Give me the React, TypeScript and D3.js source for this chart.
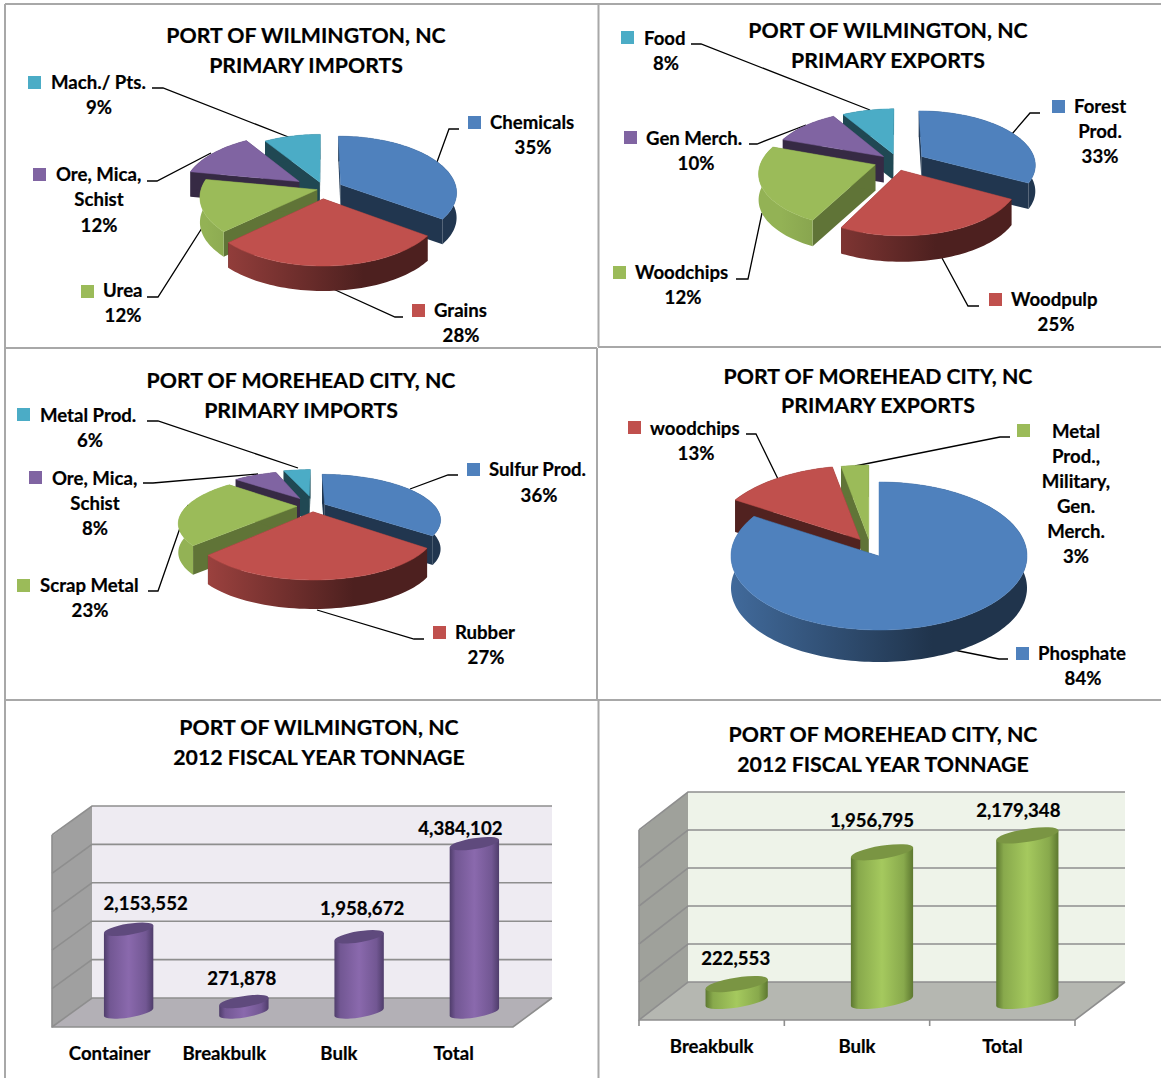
import React from "react";
import * as d3 from "d3";

// ---- data ----
const wilmImportNames = ["Chemicals", "Grains", "Urea", "Ore, Mica, Schist", "Mach./ Pts."];
const wilmImportLabels = ["35%", "28%", "12%", "12%", "9%"];
const wilmImportShares = [35, 28, 15, 13, 9];

const wilmExportNames = ["Forest Prod.", "Woodpulp", "Woodchips", "Gen Merch.", "Food"];
const wilmExportLabels = ["33%", "25%", "12%", "10%", "8%"];
const wilmExportShares = [33, 24.5, 23, 11, 8.5];

const moreImportNames = ["Sulfur Prod.", "Rubber", "Scrap Metal", "Ore, Mica, Schist", "Metal Prod."];
const moreImportLabels = ["36%", "27%", "23%", "8%", "6%"];
const moreImportShares = [36, 26, 24, 8.5, 5.5];

const moreExportNames = ["Phosphate", "woodchips", "Metal Prod., Military, Gen. Merch."];
const moreExportLabels = ["84%", "13%", "3%"];
const moreExportShares = [84, 13, 3];

const wilmTonnageCats = ["Container", "Breakbulk", "Bulk", "Total"];
const wilmTonnageVals = [2153552, 271878, 1958672, 4384102];
const moreTonnageCats = ["Breakbulk", "Bulk", "Total"];
const moreTonnageVals = [222553, 1956795, 2179348];

// ---- styling ----
const FONT = "Lato, 'Open Sans', sans-serif";
const TITLE_SIZE = 21.3;
const LABEL_SIZE = 18.6;
const palette = ["#4f81bd", "#c0504d", "#9bbb59", "#8064a2", "#4bacc6"];
const GREEN = "#9bbb59";
const shade = (c: string, f: number) => {
  const r = d3.rgb(c);
  return d3.rgb(r.r * f, r.g * f, r.b * f).formatHex();
};

type Lab = { key: [number, number]; lines: [string, number, number][]; leader: [number, number][] };
type PieCfg = {
  id: string; title: string[]; titleX: number; titleY: number[];
  shares: number[]; colors: string[];
  cx: number; cy: number; R: number; e: number; k: number; depth: number;
  explode: number[]; nudge: [number, number][]; labels: Lab[];
};

const pies: PieCfg[] = [
  {
    id: "p1", title: ["PORT OF WILMINGTON, NC", "PRIMARY IMPORTS"], titleX: 306, titleY: [35, 65],
    shares: wilmImportShares, colors: palette,
    cx: 322, cy: 189, R: 116, e: 0.48, k: 0.13, depth: 25,
    explode: [21, 20, 5, 28, 15], nudge: [[0, 0], [0, 0], [0, 0], [0, 0], [2, 0]],
    labels: [
      { key: [468, 116], lines: [[wilmImportNames[0], 490, 123], [wilmImportLabels[0], 533, 148]], leader: [[437, 162], [449, 129], [459, 129]] },
      { key: [412, 304], lines: [[wilmImportNames[1], 434, 311], [wilmImportLabels[1], 461, 336]], leader: [[331, 288], [395, 317], [403, 317]] },
      { key: [81, 285], lines: [[wilmImportNames[2], 103, 291], [wilmImportLabels[2], 123, 316]], leader: [[202, 228], [158, 297], [147, 297]] },
      { key: [33, 168], lines: [["Ore, Mica,", 56, 175], ["Schist", 99, 200], [wilmImportLabels[3], 99, 226]], leader: [[211, 153], [157, 181], [147, 181]] },
      { key: [28, 76], lines: [[wilmImportNames[4], 51, 83], [wilmImportLabels[4], 99, 108]], leader: [[291, 138], [163, 88], [152, 88]] },
    ],
  },
  {
    id: "p2", title: ["PORT OF WILMINGTON, NC", "PRIMARY EXPORTS"], titleX: 888, titleY: [30, 60],
    shares: wilmExportShares, colors: palette,
    cx: 895, cy: 161, R: 114, e: 0.47, k: 0.14, depth: 26,
    explode: [28, 20, 21, 15, 18], nudge: [[3, 2], [0, 0], [0, 0], [0, 0], [3, 1]],
    labels: [
      { key: [1052, 100], lines: [["Forest", 1074, 107], ["Prod.", 1100, 132], [wilmExportLabels[0], 1100, 157]], leader: [[1012, 134], [1030, 113], [1040, 113]] },
      { key: [989, 293], lines: [[wilmExportNames[1], 1011, 300], [wilmExportLabels[1], 1056, 325]], leader: [[942, 258], [968, 306], [979, 306]] },
      { key: [613, 266], lines: [[wilmExportNames[2], 635, 273], [wilmExportLabels[2], 683, 298]], leader: [[762, 213], [748, 279], [736, 279]] },
      { key: [624, 131], lines: [[wilmExportNames[3], 646, 139], [wilmExportLabels[3], 696, 164]], leader: [[806, 125], [757, 144], [749, 144]] },
      { key: [621, 31], lines: [[wilmExportNames[4], 644, 39], [wilmExportLabels[4], 666, 64]], leader: [[870, 110], [701, 44], [691, 44]] },
    ],
  },
  {
    id: "p3", title: ["PORT OF MOREHEAD CITY, NC", "PRIMARY IMPORTS"], titleX: 301, titleY: [380, 410],
    shares: moreImportShares, colors: palette,
    cx: 314, cy: 506, R: 110, e: 0.37, k: 0.33, depth: 29,
    explode: [12, 15, 14, 26, 30], nudge: [[0, 0], [-2, 0], [-3, 0], [0, 0], [0, 0]],
    labels: [
      { key: [467, 463], lines: [[moreImportNames[0], 489, 470], [moreImportLabels[0], 539, 496]], leader: [[410, 489], [448, 475], [458, 475]] },
      { key: [433, 626], lines: [[moreImportNames[1], 455, 633], [moreImportLabels[1], 486, 658]], leader: [[317, 610], [414, 639], [424, 639]] },
      { key: [17, 579], lines: [[moreImportNames[2], 40, 586], [moreImportLabels[2], 90, 611]], leader: [[188, 505], [158, 591], [148, 591]] },
      { key: [29, 471], lines: [["Ore, Mica,", 52, 479], ["Schist", 95, 504], [moreImportLabels[3], 95, 529]], leader: [[258, 474], [153, 483], [143, 483]] },
      { key: [17, 408], lines: [[moreImportNames[4], 40, 416], [moreImportLabels[4], 90, 441]], leader: [[298, 468], [158, 421], [147, 421]] },
    ],
  },
  {
    id: "p4", title: ["PORT OF MOREHEAD CITY, NC", "PRIMARY EXPORTS"], titleX: 878, titleY: [376, 405],
    shares: moreExportShares, colors: palette,
    cx: 879, cy: 556, R: 148, e: 0.5, k: 0.0, depth: 32,
    explode: [0, 30, 34], nudge: [[0, 0], [-2, -4], [-7, 0]],
    labels: [
      { key: [1016, 647], lines: [[moreExportNames[0], 1038, 654], [moreExportLabels[0], 1083, 679]], leader: [[954, 650], [999, 659], [1008, 659]] },
      { key: [628, 421], lines: [[moreExportNames[1], 650, 429], [moreExportLabels[1], 696, 454]], leader: [[778, 479], [756, 434], [746, 434]] },
      { key: [1017, 424], lines: [["Metal", 1076, 432], ["Prod.,", 1076, 457], ["Military,", 1076, 482], ["Gen.", 1076, 507], ["Merch.", 1076, 532], [moreExportLabels[2], 1076, 557]], leader: [[855, 466], [1000, 437], [1010, 437]] },
    ],
  },
];

const linePath = d3.line<[number, number]>().x((d) => d[0]).y((d) => d[1]);

function Label({ x, y, anchor, size, children }: { x: number; y: number; anchor: string; size: number; children: React.ReactNode }) {
  return (
    <text x={x} y={y - 1} textAnchor={anchor} dominantBaseline="central" fontSize={size} fontWeight={700} fontFamily={FONT} fill="#000" stroke="#000" strokeWidth={0.2}>{children}</text>
  );
}

function Pie3D({ c }: { c: PieCfg }) {
  const arcs = d3.pie<number>().sort(null)(c.shares);
  const project = (u: number, v: number): [number, number] => {
    const p = 1 / (1 + (c.k * v) / c.R);
    return [c.cx + u * p, c.cy - v * c.e * p];
  };
  const slices = arcs.map((a, i) => {
    const mid = (a.startAngle + a.endAngle) / 2;
    const d = c.explode[i];
    const ou = d * Math.sin(mid);
    const ov = d * Math.cos(mid);
    const [nx, ny] = c.nudge[i];
    const pt = (ang: number, r: number): [number, number] => {
      const q = project(ou + r * Math.sin(ang), ov + r * Math.cos(ang));
      return [q[0] + nx, q[1] + ny];
    };
    const angs = [...d3.range(a.startAngle, a.endAngle, 0.03), a.endAngle];
    const rim = angs.map((t) => pt(t, c.R));
    const apex = pt(0, 0);
    const down = (q: [number, number]): [number, number] => [q[0], q[1] + c.depth];
    return { i, mid, rim, apex, down, order: Math.cos(mid) * (c.R * 0.6) + ov };
  });
  const sorted = [...slices].sort((a, b) => b.order - a.order);
  return (
    <g>
      <defs>
        {c.colors.map((col, i) => (
          <linearGradient key={i} id={`${c.id}w${i}`} gradientUnits="userSpaceOnUse" x1={c.cx - c.R} x2={c.cx + c.R} y1={0} y2={0}>
            <stop offset="0" stopColor={shade(col, col === GREEN ? 0.95 : 0.82)} />
            <stop offset="0.68" stopColor={shade(col, col === GREEN ? 0.62 : 0.4)} />
            <stop offset="1" stopColor={shade(col, col === GREEN ? 0.62 : 0.4)} />
          </linearGradient>
        ))}
      </defs>
      {c.labels.map((l, i) => (
        <path key={i} d={linePath(l.leader) as string} fill="none" stroke="#000" strokeWidth={1.3} />
      ))}
      {sorted.map((s) => {
        const col = c.colors[s.i];
        const first = s.rim[0];
        const last = s.rim[s.rim.length - 1];
        const faceCol = shade(col, col === GREEN ? 0.62 : 0.42);
        const face = (q: [number, number]) =>
          (linePath([s.apex, q, s.down(q), s.down(s.apex)]) as string) + "Z";
        const wall = (linePath([...s.rim, ...[...s.rim].reverse().map(s.down)]) as string) + "Z";
        const top = (linePath([s.apex, ...s.rim]) as string) + "Z";
        const backSlice = Math.cos(s.mid) > 0;
        return (
          <g key={s.i}>
            <path d={face(first)} fill={faceCol} />
            <path d={face(last)} fill={faceCol} />
            <path d={wall} fill={backSlice ? faceCol : `url(#${c.id}w${s.i})`} />
            <path d={top} fill={col} stroke={col} strokeWidth={0.5} />
          </g>
        );
      })}
      {c.title.map((t, i) => (
        <Label key={i} x={c.titleX} y={c.titleY[i] + 1} anchor="middle" size={TITLE_SIZE}>{t}</Label>
      ))}
      {c.labels.map((l, i) => (
        <g key={i}>
          <rect x={l.key[0]} y={l.key[1]} width={13} height={13} fill={c.colors[i]} />
          {l.lines.map(([t, x, y], j) => {
            const leftAligned = j === 0 && l.lines[0][1] - l.key[0] < 30;
            return <Label key={j} x={x} y={y} anchor={leftAligned ? "start" : "middle"} size={LABEL_SIZE}>{t}</Label>;
          })}
        </g>
      ))}
    </g>
  );
}

type BarCfg = {
  id: string; title: string[]; titleX: number; titleY: number[];
  cats: string[]; vals: number[]; yMax: number;
  backL: number; backR: number; backT: number; backB: number;
  frontL: number; frontR: number; frontB: number; lift: number;
  baseY: number; shift: number; rx: number; ry: number; tickMarks: boolean;
  wall: string; floor: string; side: string;
  edge: string; mid: string; cap: string;
  valOffset: [number, number][];
  catY: number;
};

const bars: BarCfg[] = [
  {
    id: "b1", title: ["PORT OF WILMINGTON, NC", "2012 FISCAL YEAR TONNAGE"], titleX: 319, titleY: [727, 757],
    cats: wilmTonnageCats, vals: wilmTonnageVals, yMax: 5000000,
    backL: 92, backR: 552, backT: 806, backB: 998, frontL: 52, frontR: 513, frontB: 1027, lift: 29,
    baseY: 1012, shift: 19, rx: 25, ry: 5.5, tickMarks: false,
    wall: "#eeebf2", floor: "#b3b0b6", side: "#a0a0a0",
    edge: "#4f3d6b", mid: "#8a69ad", cap: "#5f4a7d",
    valOffset: [[17, -25], [-2, -23], [3, -28], [-14, -15]],
    catY: 1054,
  },
  {
    id: "b2", title: ["PORT OF MOREHEAD CITY, NC", "2012 FISCAL YEAR TONNAGE"], titleX: 883, titleY: [734, 764],
    cats: moreTonnageCats, vals: moreTonnageVals, yMax: 2500000,
    backL: 688, backR: 1125, backT: 792, backB: 982, frontL: 639, frontR: 1075, frontB: 1020, lift: 38,
    baseY: 1001, shift: 25, rx: 31.5, ry: 6.5, tickMarks: true,
    wall: "#eef3e9", floor: "#b5b7b1", side: "#9fa19b",
    edge: "#5d7830", mid: "#a5c95e", cap: "#7a9543",
    valOffset: [[-1, -25], [-10, -31], [-9, -24]],
    catY: 1047,
  },
];

function Bar3D({ c }: { c: BarCfg }) {
  const x = d3.scaleBand<string>().domain(c.cats).range([c.frontL, c.frontR]);
  const gridY = d3.scaleLinear().domain([0, c.yMax]).range([c.backB, c.backT]);
  const heightY = d3.scaleLinear().domain([0, c.yMax]).range([c.baseY, c.baseY - (c.backB - c.backT)]);
  const ticks = gridY.ticks(5);
  const fmt = d3.format(",");
  const rot = -9;
  const cs = Math.cos((rot * Math.PI) / 180) * c.rx;
  const sn = Math.sin((rot * Math.PI) / 180) * c.rx;
  return (
    <g>
      <defs>
        <linearGradient id={`${c.id}g`} x1="0" x2="1" y1="0" y2="0">
          <stop offset="0" stopColor={c.edge} />
          <stop offset="0.12" stopColor={d3.interpolateRgb(c.edge, c.mid)(0.6)} />
          <stop offset="0.5" stopColor={c.mid} />
          <stop offset="0.85" stopColor={d3.interpolateRgb(c.edge, c.mid)(0.6)} />
          <stop offset="1" stopColor={c.edge} />
        </linearGradient>
      </defs>
      <rect x={c.backL} y={c.backT} width={c.backR - c.backL} height={c.backB - c.backT} fill={c.wall} />
      <path d={(linePath([[c.backL, c.backT], [c.frontL, c.backT + c.lift + 1], [c.frontL, c.frontB], [c.backL, c.backB]]) as string) + "Z"} fill={c.side} />
      <path d={(linePath([[c.backL, c.backB], [c.backR, c.backB], [c.frontR, c.frontB], [c.frontL, c.frontB]]) as string) + "Z"} fill={c.floor} />
      {ticks.map((t) => (
        <path key={t} d={linePath([[c.frontL, gridY(t) + c.lift], [c.backL, gridY(t)], [c.backR, gridY(t)]]) as string} fill="none" stroke="#8e8e8e" strokeWidth={1.6} />
      ))}
      <path d={linePath([[c.frontL, c.backT + c.lift], [c.frontL, c.frontB], [c.frontR, c.frontB], [c.backR, c.backB]]) as string} fill="none" stroke="#8e8e8e" strokeWidth={1.6} />
      {c.tickMarks && [...c.cats.map((k) => x(k) as number), c.frontR].map((tx) => (
        <path key={tx} d={linePath([[tx, c.frontB], [tx, c.frontB + 6]]) as string} stroke="#8e8e8e" strokeWidth={1.6} fill="none" />
      ))}
      {c.cats.map((k, i) => {
        const bandMid = (x(k) as number) + x.bandwidth() / 2;
        const cx = bandMid + c.shift;
        const topY = heightY(c.vals[i]);
        const body = `M${cx - cs},${topY - sn} L${cx - cs},${c.baseY - sn} A${c.rx},${c.ry} ${rot} 0 0 ${cx + cs},${c.baseY + sn} L${cx + cs},${topY + sn} Z`;
        return (
          <g key={k}>
            <path d={body} fill={`url(#${c.id}g)`} />
            <ellipse cx={cx} cy={topY} rx={c.rx} ry={c.ry} fill={c.cap} transform={`rotate(${rot} ${cx} ${topY})`} />
            <Label x={cx + c.valOffset[i][0]} y={topY + c.valOffset[i][1]} anchor="middle" size={LABEL_SIZE}>{fmt(c.vals[i])}</Label>
            <Label x={bandMid - (c.id === "b1" ? i * 0.6 : 0)} y={c.catY} anchor="middle" size={LABEL_SIZE}>{k}</Label>
          </g>
        );
      })}
      {c.title.map((t, i) => (
        <Label key={i} x={c.titleX} y={c.titleY[i] + 1} anchor="middle" size={TITLE_SIZE}>{t}</Label>
      ))}
    </g>
  );
}

const frameLines: [number, number][][] = [
  [[5, 4], [1161, 4]],
  [[5, 4], [5, 1078]],
  [[598.5, 4], [598.5, 347]],
  [[598, 347], [1161, 347]],
  [[5, 348], [597, 348]],
  [[597, 348], [597, 700]],
  [[5, 700], [1161, 700]],
  [[598.5, 700], [598.5, 1078]],
];

export default function App() {
  return (
    <svg width={1161} height={1078} viewBox="0 0 1161 1078" style={{ position: "absolute", left: 0, top: 0, display: "block", background: "#fff" }}>
      {frameLines.map((l, i) => (
        <path key={i} d={linePath(l) as string} stroke="#a8a8a8" strokeWidth={2} fill="none" />
      ))}
      {pies.map((c) => <Pie3D key={c.id} c={c} />)}
      {bars.map((c) => <Bar3D key={c.id} c={c} />)}
    </svg>
  );
}
